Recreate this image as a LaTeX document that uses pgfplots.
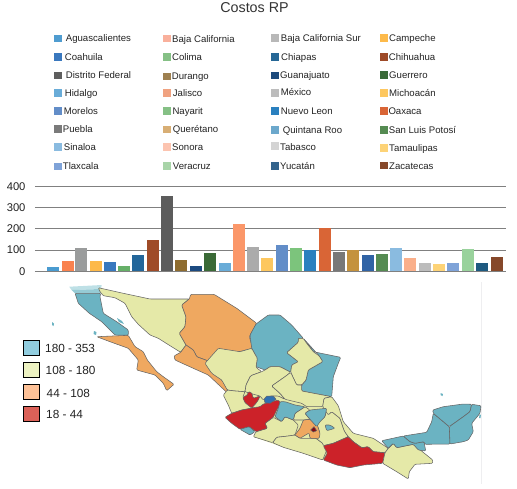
\documentclass[border=0pt]{standalone}
\usepackage{fontspec}
\setmainfont{Liberation Sans}
\usepackage{pgfplots}
\pgfplotsset{compat=1.18}
\definecolor{mapteal}{HTML}{6BB3C2}
\definecolor{mapyel}{HTML}{E5E9A8}
\definecolor{maporg}{HTML}{EFA860}
\definecolor{mapred}{HTML}{CC2229}
\definecolor{mapline}{HTML}{666666}
\definecolor{txt}{HTML}{222222}
\definecolor{titlec}{HTML}{333333}
\definecolor{rulec}{HTML}{EEEEF0}
\definecolor{gridc}{HTML}{808080}
\definecolor{bapale}{HTML}{BEE0E6}
\definecolor{bamid}{HTML}{96CBD5}
\definecolor{smallblue}{HTML}{3070B0}
\definecolor{dfred}{HTML}{820A14}
\definecolor{lgA}{HTML}{91CDDF}
\definecolor{lgB}{HTML}{EDF2C2}
\definecolor{lgC}{HTML}{FDC197}
\definecolor{lgD}{HTML}{DB6158}
\newcommand{\st}[2]{\addplot[fill=#1,draw=mapline,line width=.55pt,line join=round,rounded corners=1pt] coordinates {#2} -- cycle;}
\newcommand{\sw}[3]{\definecolor{c#3}{HTML}{#3}\addplot[only marks,color=c#3,mark=square*,mark size=3.3pt,mark options={solid,draw=c#3,fill=c#3}] coordinates {(#1,#2)};}
\newcommand{\lab}[3]{\node[anchor=base west,inner sep=0pt,text=txt,font=\fontsize{9.6}{10}\selectfont,yshift=-3.3pt] at (axis cs:#1,#2) {#3};}
\newcommand{\bbar}[3]{\definecolor{c#3}{HTML}{#3}\addplot[fill=c#3,draw=none] coordinates {(#1,#2)};}
\begin{document}
\begin{tikzpicture}[x=1pt,y=1pt]
\useasboundingbox (0,0) rectangle (517,488);
\begin{axis}[at={(0,0)},anchor=south west,scale only axis,width=517pt,height=488pt,
  xmin=0,xmax=517,ymin=0,ymax=488,y dir=reverse,hide axis,clip=false]
% title
\node[text=titlec,font=\fontsize{14.3}{15}\selectfont,inner sep=0pt] at (axis cs:254.5,8) {Costos RP};
% legend col 1
\sw{57.5}{38.3}{4F9CD0}\lab{65.7}{37.7}{Aguascalientes}
\sw{57.5}{56.7}{3A78BE}\lab{64.7}{56.7}{Coahuila}
\sw{57.5}{75}{5E5E5E}\lab{65.7}{74.7}{Distrito Federal}
\sw{57.5}{92.7}{69ACD8}\lab{64.7}{92.7}{Hidalgo}
\sw{57.5}{110.7}{628DC8}\lab{63.7}{110.7}{Morelos}
\sw{57.5}{128.7}{7A7A7A}\lab{62.7}{128.7}{Puebla}
\sw{57.5}{146.7}{8ABBE0}\lab{63.7}{146.7}{Sinaloa}
\sw{57.5}{166}{7FA3D8}\lab{62.7}{166.3}{Tlaxcala}
% col 2
\sw{166.5}{38.3}{F9B09C}\lab{172}{38.7}{Baja California}
\sw{166.5}{56.7}{85C085}\lab{172}{56.7}{Colima}
\sw{166.5}{76}{9E8050}\lab{171.7}{76}{Durango}
\sw{166.5}{92.7}{F0A280}\lab{172.7}{92.7}{Jalisco}
\sw{166.5}{110.7}{85C085}\lab{172.3}{110.7}{Nayarit}
\sw{166.5}{129}{D8AE74}\lab{172.7}{128.7}{Querétano}
\sw{166.5}{146.7}{FCC4B0}\lab{172}{146.7}{Sonora}
\sw{166.5}{165.7}{A8D4A8}\lab{172.7}{165.7}{Veracruz}
% col 3
\sw{274.5}{37.7}{B8B8B8}\lab{280.7}{37.7}{Baja California Sur}
\sw{274.5}{56.7}{266796}\lab{281}{56.7}{Chiapas}
\sw{274.5}{75}{1C4A7C}\lab{280}{74.7}{Guanajuato}
\sw{274.5}{92.7}{BCBCBC}\lab{280.7}{91.7}{México}
\sw{274.5}{110.7}{2A80BF}\lab{280.7}{110.7}{Nuevo Leon}
\sw{274.5}{129.7}{6CA8CC}\lab{282.7}{129.7}{Quintana Roo}
\sw{274.5}{145.7}{D4D4D4}\lab{280}{146.7}{Tabasco}
\sw{274.5}{165.7}{33638C}\lab{280}{165.7}{Yucatán}
% col 4
\sw{383.5}{37.7}{FDBA4B}\lab{389}{37.7}{Campeche}
\sw{383.5}{56.7}{9E4A28}\lab{388.7}{56.7}{Chihuahua}
\sw{383.5}{74.7}{3A6A38}\lab{389}{74.7}{Guerrero}
\sw{383.5}{92.7}{FDC75F}\lab{389}{92.7}{Michoacán}
\sw{383.5}{110.7}{D96536}\lab{388.3}{110.7}{Oaxaca}
\sw{383.5}{129.7}{558B52}\lab{388.7}{129.7}{San Luis Potosí}
\sw{383.5}{147.7}{FDD377}\lab{389}{147.7}{Tamaulipas}
\sw{383.5}{165}{86482A}\lab{389}{165.7}{Zacatecas}
% faint vertical rule
\addplot[draw=rulec,line width=.8pt] coordinates {(481.7,282)(481.7,484)};
% map: Baja California pale top and body
\addplot[fill=bapale,draw=none] coordinates {(69.3,286.7)(101.7,285)(101,289)(71.5,290)} -- cycle;
\addplot[fill=bamid,draw=none] coordinates {(71.5,290)(101,289)(100.7,293.3)(75,293.3)} -- cycle;
\st{mapteal}{(75,293.3)(78.3,303.3)(89.3,313.3)(101.7,321.7)(115,335)(128.3,335.3)(128.3,330)(116.7,321.7)(103.3,313.3)(100,296.7)(100.7,293.3)}
% Sonora
\st{mapyel}{(98.3,287.7)(123.3,293.3)(150,299)(189.3,299)(181.7,305)(186,316.7)(185,326.7)(179.3,333.3)(186,345)(180.7,352.3)(170,345.7)(158.3,338.3)(150,335)(138.3,324.3)(131.7,316.7)(125,303.3)(115,297.7)(103.3,295.7)(100,291.7)}
% Chihuahua
\st{maporg}{(189.3,299)(190.7,294.3)(214,294.3)(236.7,308.3)(256.7,323.3)(249.3,336.7)(252.7,348.3)(236.7,352.3)(220,349)(208.3,361)(196.7,356.7)(193.3,350)(186,345)(179.3,333.3)(185,326.7)(186,316.7)(181.7,305)}
% Sinaloa
\st{maporg}{(186,345)(180.7,352.3)(174,356)(175,360)(193.3,368.3)(208.3,375)(226.7,392.3)(227.7,390)(222.3,380)(215,374.3)(205.7,363.3)(208.3,361)(196.7,356.7)(193.3,350)}
% Baja California Sur
\st{maporg}{(96.7,336.7)(128.3,335.3)(135,346.7)(143.3,351.7)(147.3,360)(156.7,371.7)(163.3,376.7)(174,384.3)(166.7,390.7)(163.3,383.3)(155,375)(136.7,370)(138.3,360)(128.3,348.3)(110,341.7)}
% base of central Mexico
\addplot[fill=mapyel,draw=none] coordinates {(227,390)(245,391)(280,393)(331.7,396.7)(340,418)(348,436)(323,460)(303.3,453.3)(283.3,447.3)(253.3,436.7)(256,431)(225,417)(231.7,413)(228.3,405)} -- cycle;
% Coahuila
\st{mapteal}{(256,324)(250,335)(251.7,348.3)(257.3,358.3)(256,366.7)(265,370)(270,366.7)(280,366.7)(290.7,372.3)(291.7,365)(298.3,361.7)(286.7,352.7)(298.3,342.3)(298.3,338.3)(303.3,338.3)(291.7,325)(280,315)(268.3,315)}
% Tamaulipas
\st{mapteal}{(303.3,338.3)(313.3,351.7)(340.7,357.3)(338.3,363.3)(333.3,376.7)(331.7,396.7)(313.3,393.3)(301.7,391)(301.7,385)(306,380)(308.3,370)(322.7,361.7)(319.3,356)}
% Nuevo Leon
\st{mapyel}{(298.3,338.3)(298.3,342.3)(286.7,352.7)(298.3,361.7)(291.7,365)(290.7,372.3)(296.7,385)(301.7,385)(306,380)(308.3,370)(322.7,361.7)(319.3,356)(313.3,351.7)(306.7,343.3)(303.3,338.3)}
% Durango
\st{mapyel}{(205,363.3)(218.3,348.3)(240,351.7)(251.7,348.3)(257.3,358.3)(256,367.3)(261.7,371.7)(250.7,375.7)(246,385)(245,391.7)(235,391)(227.3,390)(221.7,380)(211.7,373.3)}
% Zacatecas
\st{mapyel}{(261.7,371.7)(265,370)(270,366.7)(280,366.7)(290.7,372.3)(285,376.7)(271.7,386)(280,393.3)(285,399.3)(278.3,396)(270,396)(263.3,400)(260,396)(250,393.3)(245,391.7)(246,385)(250.7,375.7)}
% San Luis Potosi
\st{mapyel}{(290.7,372.3)(296.7,385)(301.7,385)(301.7,391)(331.7,396.7)(324,398.3)(322.7,406.7)(306.7,406.7)(301.7,403.3)(285,399.3)(280,393.3)(271.7,386)(285,376.7)}
% Nayarit
\st{mapyel}{(227.3,390)(235,391)(245,391.7)(242.7,397.3)(250,405)(253.3,408.3)(241.7,410)(231.7,413.3)(228.3,405)(223.3,395)}
% Michoacan
\st{mapyel}{(267.3,428.3)(265,423.3)(273.3,417.3)(281.7,421.7)(285,416.7)(293.3,420)(298.3,425)(295,435)(288.3,436)(276.7,437.3)(272.7,442.7)(253.3,436.7)(256,431.7)}
% Guerrero
\st{mapyel}{(272.7,442.7)(276.7,437.3)(288.3,436)(295,435)(300,438.3)(310,438.3)(316,438.3)(322.7,443.3)(326.7,450)(322.7,460)(303.3,453.3)(283.3,447.3)}
% Queretaro, Puebla
\st{mapyel}{(295,413.3)(305,406.7)(310,410)(305,413.3)(310,419.3)(303.3,420)(293.3,420)}
\st{mapyel}{(322.7,406.7)(331.7,411.7)(340,418.3)(344.3,431)(348.3,436.7)(333.3,443.3)(323.3,445.7)(322.7,443.3)(316,438.3)(320,433.3)(316.7,423.3)(325,416.7)(326.7,408.3)}
% Veracruz
\st{mapyel}{(331.7,396.7)(338.3,405.7)(343.3,421.7)(353.3,433.3)(373.3,438.3)(388.3,448.3)(385,452.7)(373.3,451.7)(368.3,446.7)(361.7,447.7)(353.3,441.7)(348.3,436.7)(344.3,431)(340,418.3)(331.7,411.7)(328.3,415)(322.7,406.7)(324,398.3)}
% red states
\st{mapred}{(242.7,397.3)(247.3,395)(248.3,391.7)(251.7,392.7)(253.3,398.3)(260,396)(258.3,400)(256,403.3)(251.7,408)(245,402.7)}
\st{mapred}{(225,417.3)(231.7,413.3)(241.7,410)(253.3,407.7)(260,406.7)(263.3,404)(278.3,400)(280.7,403.3)(276.7,410)(273.3,417.3)(265,423.3)(267.3,428.3)(256,431.7)(249.3,426.7)(240,429.3)(231.7,423.3)}
% Colima
\st{mapteal}{(240,429.3)(249.3,426.7)(255,431.7)(250,435)}
% small blue state
\addplot[fill=smallblue,draw=mapline,line width=.5pt] coordinates {(264,399.3)(266.7,396)(273.3,396)(276,399.3)(270,403.3)(265,402.7)} -- cycle;
% Guanajuato
\st{mapteal}{(280,401.7)(285,401.7)(295,405)(305,406.7)(295,413.3)(293.3,420)(285,416.7)(281.7,421.7)(275,416.7)(278.3,408.3)}
% Mexico state, Morelos
\st{maporg}{(295,435)(300,428.3)(303.3,420)(310,419.3)(316.7,423.3)(320,433.3)(319.3,438.3)(310,438.3)(309,433)(300,438.3)}
\addplot[fill=dfred,draw=mapline,line width=.5pt] coordinates {(310.7,430)(314,426.7)(316.7,430.7)(313.3,432)} -- cycle;
% Hidalgo, Tlaxcala
\st{mapteal}{(305,413.3)(310,410)(326.7,408.3)(325,416.7)(320,421.7)(316.7,426.7)(310,419.3)}
\st{mapteal}{(325,425)(330,425)(335,428.3)(326.7,430.7)}
% Oaxaca
\st{mapred}{(323.3,445.7)(333.3,443.3)(348.3,436.7)(353.3,441.7)(361.7,447.7)(368.3,446.7)(373.3,451.7)(385,452.7)(382.7,463.3)(363.3,465)(350,467.7)(336.7,465)(323.3,460)(327.3,453.3)}
% Chiapas
\st{mapyel}{(385,452.7)(388.3,448.3)(393.3,443.3)(396.7,447.7)(413.3,444.3)(432.7,460)(432.7,463.3)(415,464.3)(409.3,471.7)(408.3,479)(396.7,471.7)(382.7,463.3)}
% Tabasco, Campeche, Yucatan, Quintana Roo
\st{mapteal}{(381.7,440.7)(403.3,436)(410,441.7)(415,443.3)(424,441.7)(425.7,451)(418.3,450)(413.3,444.3)(396.7,447.7)(393.3,443.3)(388.3,448.3)}
\st{mapteal}{(403.3,436)(426.7,432.3)(431.7,421.7)(433.3,413.3)(449.3,426.7)(450,444)(425,444.3)(424,441.7)(415,443.3)(410,441.7)}
\st{mapteal}{(433.3,413.3)(432.7,410)(443.3,406.7)(463.3,404)(471.7,404.3)(470,411.7)(463.3,416.7)(449.3,426.7)}
\st{mapteal}{(471.7,404.3)(481,405.7)(480,413.3)(471.7,423.3)(473.3,431.7)(468.3,440)(463.3,441.7)(450,444)(449.3,426.7)(463.3,416.7)(470,411.7)}
% islands
\addplot[fill=mapteal,draw=none] coordinates {(52,322)(54,323.5)(53.5,326)(52,325)} -- cycle;
\addplot[fill=mapteal,draw=none] coordinates {(94,331)(96.5,332)(96,335)(93.5,334)} -- cycle;
\addplot[fill=mapteal,draw=none] coordinates {(117,318)(122,321)(124,324)(119,322)} -- cycle;
\addplot[fill=mapteal,draw=none] coordinates {(440.5,393)(443,394)(442.5,396)(440.5,395)} -- cycle;
\addplot[fill=mapteal,draw=none] coordinates {(479.5,415)(481,414.5)(480.5,418)(479,418)} -- cycle;
% map legend
\addplot[fill=lgA,draw=black,line width=.8pt] coordinates {(23.5,340.3)(39.3,340.3)(39.3,355.3)(23.5,355.3)} -- cycle;
\addplot[fill=lgB,draw=black,line width=.8pt] coordinates {(23.5,362.5)(39.3,362.5)(39.3,377.3)(23.5,377.3)} -- cycle;
\addplot[fill=lgC,draw=black,line width=.8pt] coordinates {(23.5,384.5)(39.3,384.5)(39.3,399.3)(23.5,399.3)} -- cycle;
\addplot[fill=lgD,draw=black,line width=.8pt] coordinates {(23.5,406.5)(39.3,406.5)(39.3,421.3)(23.5,421.3)} -- cycle;
\node[anchor=base west,inner sep=0pt,text=txt,font=\fontsize{11.8}{12}\selectfont] at (axis cs:45,352) {180 - 353};
\node[anchor=base west,inner sep=0pt,text=txt,font=\fontsize{11.8}{12}\selectfont] at (axis cs:45.5,374) {108 - 180};
\node[anchor=base west,inner sep=0pt,text=txt,font=\fontsize{11.8}{12}\selectfont] at (axis cs:46.5,397) {44 - 108};
\node[anchor=base west,inner sep=0pt,text=txt,font=\fontsize{11.8}{12}\selectfont] at (axis cs:46,418.3) {18 - 44};
\end{axis}
\begin{axis}[at={(35pt,216.7pt)},anchor=south west,scale only axis,width=470.7pt,height=85pt,
  xmin=35,xmax=505.7,ymin=0,ymax=400,ytick={0,100,200,300,400},xtick=\empty,
  axis line style={draw=none},major tick length=0pt,ymajorgrids,
  grid style={draw=gridc,line width=.9pt},
  /pgf/number format/assume math mode=true,
  yticklabel style={font=\fontsize{11.2}{12}\selectfont,text=txt,xshift=-6pt},
  ybar,bar width=11.8pt,bar shift=0pt,clip=false]
\bbar{53}{20}{4A9BD0}
\bbar{68.3}{48}{F9824F}
\bbar{81.3}{110}{9A9C9C}
\bbar{95.7}{48}{FDB94A}
\bbar{110}{44}{3878BE}
\bbar{124.3}{25}{66B068}
\bbar{138.3}{77}{23669A}
\bbar{153}{147}{9F4B28}
\bbar{167}{353}{5C5C5C}
\bbar{181}{53}{8E6C2F}
\bbar{196}{25}{1C4A80}
\bbar{210}{86}{3A6A36}
\bbar{225}{39}{69ACD8}
\bbar{239}{222}{FB9769}
\bbar{253}{114}{ABABAB}
\bbar{267.3}{63}{FDC75F}
\bbar{281.7}{124}{628DC8}
\bbar{296}{110}{7CC47C}
\bbar{310}{100}{2A80BF}
\bbar{325}{202}{D96536}
\bbar{339}{91}{787878}
\bbar{353.3}{98}{C4923E}
\bbar{368}{77}{3063A5}
\bbar{382}{82}{558B52}
\bbar{396}{110}{8ABBE0}
\bbar{410}{63}{FAAF8A}
\bbar{425}{39}{BCBCBC}
\bbar{439}{34}{FDD377}
\bbar{453.3}{39}{7FA3D8}
\bbar{468.3}{105}{99D29C}
\bbar{482}{39}{1E5A80}
\bbar{496.7}{67}{86482A}
\end{axis}
\end{tikzpicture}
\end{document}
